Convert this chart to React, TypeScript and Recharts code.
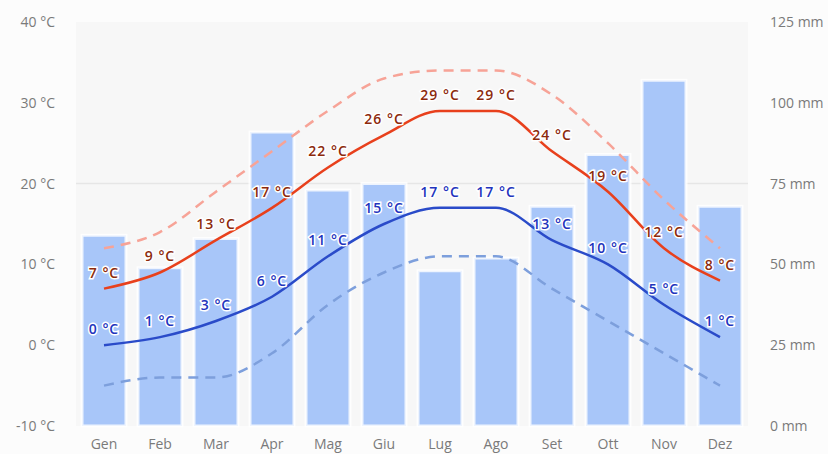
import React from "react";
import {
  Bar,
  CartesianGrid,
  ComposedChart,
  LabelList,
  Line,
  XAxis,
  YAxis,
} from "recharts";

const months = ["Gen", "Feb", "Mar", "Apr", "Mag", "Giu", "Lug", "Ago", "Set", "Ott", "Nov", "Dez"];
const precipitation = [59, 49, 58, 91, 73, 75, 48, 52, 68, 84, 107, 68];
const maxTemp = [7, 9, 13, 17, 22, 26, 29, 29, 24, 19, 12, 8];
const minTemp = [0, 1, 3, 6, 11, 15, 17, 17, 13, 10, 5, 1];
const recordMax = [12, 14, 19, 24, 29, 33, 34, 34, 31, 25, 18, 12];
const recordMin = [-5, -4, -4, -1, 5, 9, 11, 11, 7, 3, -1, -5];

const tempTicks = [-10, 0, 10, 20, 30, 40];
const rainTicks = [0, 25, 50, 75, 100, 125];

const data = months.map((m, i) => ({
  month: m,
  rain: precipitation[i],
  max: maxTemp[i],
  min: minTemp[i],
  recMax: recordMax[i],
  recMin: recordMin[i],
}));

const FONT = "'Open Sans', 'DejaVu Sans', sans-serif";
const tickStyle = { fill: "#7a7a7a", fontSize: 14, fontFamily: FONT };

function makeLabel(color: string) {
  return (props: any) => {
    const { x, y, value } = props;
    return (
      <text
        x={x}
        y={y - 11}
        textAnchor="middle"
        fill={color}
        stroke="#ffffff"
        strokeWidth={3}
        paintOrder="stroke"
        fontSize={14}
        fontWeight={600}
        fontFamily={FONT}
        letterSpacing={1}
      >
        {`${value} °C`}
      </text>
    );
  };
}

export default function App() {
  return (
    <div style={{ position: "absolute", left: 0, top: 0, width: 828, height: 454, background: "#fcfcfc" }}>
      <ComposedChart
        width={828}
        height={454}
        data={data}
        margin={{ top: 22, right: 0, bottom: 0, left: 0 }}
      >
        <CartesianGrid
          yAxisId="temp"
          vertical={false}
          horizontalValues={[20]}
          stroke="#e6e6e6"
          strokeWidth={1.5}
          fill="#f7f7f7"
        />
        <XAxis
          dataKey="month"
          axisLine={false}
          tickLine={false}
          tickSize={0}
          tickMargin={13}
          height={28}
          tick={tickStyle}
        />
        <YAxis
          yAxisId="temp"
          orientation="left"
          domain={[-10, 40]}
          ticks={tempTicks}
          width={76}
          axisLine={false}
          tickLine={false}
          tickSize={0}
          tickMargin={21}
          tick={tickStyle}
          tickFormatter={(v) => `${v} °C`}
        />
        <YAxis
          yAxisId="rain"
          orientation="right"
          domain={[0, 125]}
          ticks={rainTicks}
          width={80}
          axisLine={false}
          tickLine={false}
          tickSize={0}
          tickMargin={22}
          tick={{ ...tickStyle, textAnchor: "start" }}
          tickFormatter={(v) => `${v} mm`}
        />
        <Bar
          yAxisId="rain"
          dataKey="rain"
          fill="#a8c6f9"
          stroke="#ffffff"
          strokeOpacity={0.8}
          strokeWidth={3}
          barSize={44}
          isAnimationActive={false}
        />
        <Line
          yAxisId="temp"
          type="monotone"
          dataKey="recMax"
          stroke="#f7a397"
          strokeWidth={2.5}
          strokeDasharray="10 7"
          dot={false}
          activeDot={false}
          isAnimationActive={false}
        />
        <Line
          yAxisId="temp"
          type="monotone"
          dataKey="recMin"
          stroke="#7d9fdc"
          strokeWidth={2.5}
          strokeDasharray="10 7"
          dot={false}
          activeDot={false}
          isAnimationActive={false}
        />
        <Line
          yAxisId="temp"
          type="monotone"
          dataKey="max"
          stroke="#e8401c"
          strokeWidth={2.5}
          dot={false}
          activeDot={false}
          isAnimationActive={false}
        >
          <LabelList dataKey="max" content={makeLabel("#8c2a0c")} />
        </Line>
        <Line
          yAxisId="temp"
          type="monotone"
          dataKey="min"
          stroke="#2a4bc9"
          strokeWidth={2.5}
          dot={false}
          activeDot={false}
          isAnimationActive={false}
        >
          <LabelList dataKey="min" content={makeLabel("#2233bd")} />
        </Line>
      </ComposedChart>
    </div>
  );
}
